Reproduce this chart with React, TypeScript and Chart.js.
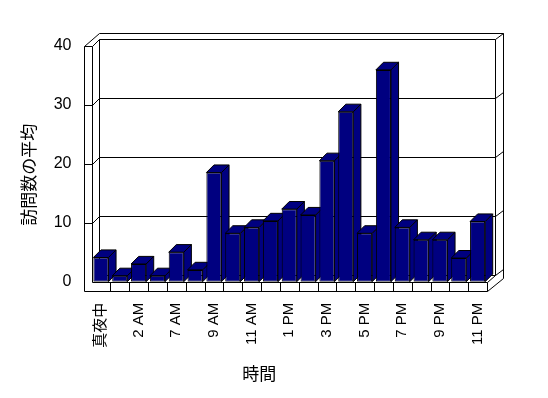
import React, { useEffect, useRef } from 'react';
import { Chart, registerables } from 'chart.js';

Chart.register(...registerables);

// ---- data ----
const hourLabels = [
  '真夜中', '1 AM', '2 AM', '6 AM', '7 AM', '8 AM', '9 AM', '10 AM', '11 AM', '正午',
  '1 PM', '2 PM', '3 PM', '4 PM', '5 PM', '6 PM', '7 PM', '8 PM', '9 PM', '10 PM', '11 PM',
];
const avgVisits = [
  4.1, 1, 3, 1, 5, 2, 18.5, 8.2, 9.2, 10.3, 12.3,
  11.3, 20.5, 28.8, 8.2, 35.9, 9.2, 7.1, 7.1, 4, 10.2,
];
const yTickValues = [0, 10, 20, 30, 40];
const yAxisTitle = '訪問数の平均';
const xAxisTitle = '時間';

// ---- styles ----
const NAVY = '#000080';
const DX = 7.8; // wall depth offset
const DY = 6.5;
const BDX = 7.6; // bar depth offset
const BDY = 7.6;
const WALL = 8;
const FLOOR = 9.3;

const frame3d = {
  id: 'frame3d',
  beforeDatasetsDraw(chart: any) {
    const { ctx, chartArea } = chart;
    const { left: L, right: R, top: T, bottom: B } = chartArea;
    const xs = chart.scales.x;
    const ys = chart.scales.y;
    const p = (v: number) => Math.round(v) + 0.5;
    ctx.save();
    ctx.lineWidth = 1;
    ctx.strokeStyle = '#000';
    const line = (pts: number[][]) => {
      ctx.beginPath();
      ctx.moveTo(p(pts[0][0]), p(pts[0][1]));
      for (let i = 1; i < pts.length; i++) ctx.lineTo(p(pts[i][0]), p(pts[i][1]));
      ctx.stroke();
    };
    // outer silhouette
    line([
      [L - WALL, T], [L - WALL, B + FLOOR], [R, B + FLOOR], [R + 2 * DX, B + FLOOR - 2 * DY],
      [R + 2 * DX, T - 2 * DY], [L - WALL + 2 * DX, T - 2 * DY], [L - WALL, T],
    ]);
    // left wall
    line([[L - WALL, T], [L, T], [L + DX, T - DY]]);
    line([[L, T], [L, B]]);
    // back wall
    line([[L + DX, T - DY], [L + DX, B - DY]]);
    line([[R + DX, T - DY], [R + DX, B - DY]]);
    // floor
    line([[L, B], [R, B], [R + DX, B - DY]]);
    line([[R, B], [R, B + FLOOR]]);
    // gridlines on back wall and ticks on side wall
    const yMax = yTickValues[yTickValues.length - 1];
    for (const v of yTickValues) {
      const yy = ys.getPixelForValue(v);
      line([[L + DX, yy - DY], [R + DX, yy - DY], [R + 2 * DX, yy - 2 * DY]]);
      if (v > 0 && v < yMax) line([[L - WALL, yy], [L, yy], [L + DX, yy - DY]]);
    }
    // floor dividers
    for (let i = 1; i < hourLabels.length; i++) {
      const xx = (xs.getPixelForValue(i - 1) + xs.getPixelForValue(i)) / 2;
      line([[xx, B], [xx, B + FLOOR]]);
    }
    // bar sides and tops
    const meta = chart.getDatasetMeta(0);
    ctx.fillStyle = NAVY;
    meta.data.forEach((el: any) => {
      const { x, y, base, width } = el.getProps(['x', 'y', 'base', 'width'], true);
      const x1 = x - width / 2;
      const x2 = x + width / 2;
      const poly = (pts: number[][]) => {
        ctx.beginPath();
        ctx.moveTo(pts[0][0], pts[0][1]);
        for (let i = 1; i < pts.length; i++) ctx.lineTo(pts[i][0], pts[i][1]);
        ctx.closePath();
        ctx.fill();
        ctx.stroke();
      };
      poly([[x2, y], [x2 + BDX, y - BDY], [x2 + BDX, base - BDY], [x2, base]]);
      poly([[x1, y], [x1 + BDX, y - BDY], [x2 + BDX, y - BDY], [x2, y]]);
    });
    ctx.restore();
  },
  afterDraw(chart: any) {
    const { ctx, chartArea } = chart;
    const { left: L, right: R, top: T, bottom: B } = chartArea;
    ctx.save();
    ctx.fillStyle = '#000';
    ctx.font = '17px "Noto Sans CJK JP", sans-serif';
    ctx.textAlign = 'center';
    ctx.textBaseline = 'middle';
    ctx.save();
    ctx.translate(L - 63, (T + B) / 2 + 11);
    ctx.rotate(-Math.PI / 2);
    ctx.fillText(yAxisTitle, 0, 0);
    ctx.restore();
    ctx.fillText(xAxisTitle, (L + R) / 2 - 30, B + 92);
    ctx.restore();
  },
};

export default function App() {
  const ref = useRef<HTMLCanvasElement | null>(null);
  useEffect(() => {
    document.body.style.margin = '0';
    const canvas = ref.current;
    if (!canvas) return;
    const chart = new Chart(canvas, {
      type: 'bar',
      data: {
        labels: hourLabels,
        datasets: [
          {
            data: avgVisits,
            backgroundColor: NAVY,
            borderColor: '#000',
            borderWidth: 1,
            borderSkipped: false,
            barPercentage: 0.8,
            categoryPercentage: 1.0,
          },
        ],
      },
      options: {
        responsive: false,
        animation: false,
        devicePixelRatio: 1,
        layout: { padding: { top: 45.7, right: 61, left: 0, bottom: 0 } },
        plugins: { legend: { display: false }, tooltip: { enabled: false } },
        scales: {
          x: {
            ticks: {
              autoSkip: false,
              minRotation: 90,
              maxRotation: 90,
              padding: 21,
              color: '#000',
              font: { family: '"Liberation Sans", "Noto Sans CJK JP", sans-serif', size: 15 },
              callback: (_v: any, i: number) => (i % 2 === 0 ? hourLabels[i] : ''),
            },
            grid: { display: false, drawTicks: false },
            border: { display: false },
            afterFit: (s: any) => {
              s.height = 116.3;
            },
          },
          y: {
            min: 0,
            max: 40,
            ticks: {
              stepSize: 10,
              padding: 20,
              color: '#000',
              font: { family: '"Liberation Sans", Arial, sans-serif', size: 16 },
            },
            grid: { display: false, drawTicks: false },
            border: { display: false },
            afterFit: (s: any) => {
              s.width = 91.5;
            },
          },
        },
      },
      plugins: [frame3d],
    });
    return () => chart.destroy();
  }, []);
  return (
    <div style={{ position: 'absolute', left: 0, top: 0, width: 548, height: 398 }}>
      <canvas ref={ref} width={548} height={398} />
    </div>
  );
}
